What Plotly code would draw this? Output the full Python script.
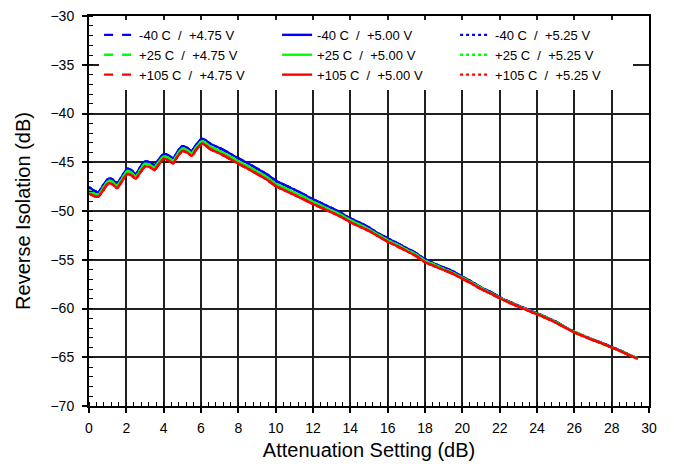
import plotly.graph_objects as go

# Attenuation setting (dB)
atten = [0, 0.25, 0.5, 0.75, 1.0, 1.1, 1.25, 1.5, 1.75, 2.0, 2.1, 2.25, 2.5, 2.75,
         3.0, 3.25, 3.5, 3.75, 4.0, 4.25, 4.5, 4.75, 5.0, 5.25, 5.5, 5.75, 6.0, 6.1,
         6.5, 7, 7.5, 8, 8.5, 9, 9.5, 10, 10.5, 11, 11.5, 12, 12.5, 13, 13.5, 14,
         14.5, 15, 15.5, 16, 16.5, 17, 17.5, 18, 18.5, 19, 19.5, 20, 20.5, 21, 21.5,
         22, 22.5, 23, 23.5, 24, 24.5, 25, 25.5, 26, 26.5, 27, 27.5, 28, 28.5, 29, 29.4]

# Reverse isolation (dB) per temperature (the three supply voltages overlap)
iso_m40 = [-47.55, -47.9, -48.1, -47.4, -46.75, -46.65, -46.75, -47.15, -46.5, -45.75,
           -45.65, -45.8, -46.2, -45.5, -44.9, -45.0, -45.3, -44.7, -44.15, -44.3,
           -44.6, -43.9, -43.35, -43.5, -43.85, -43.2, -42.65, -42.6,
           -43.1, -43.55, -44.05, -44.6, -45.1, -45.65, -46.2, -46.9, -47.35, -47.8,
           -48.3, -48.8, -49.25, -49.7, -50.2, -50.75, -51.2, -51.7, -52.3, -52.8,
           -53.3, -53.8, -54.3, -54.95, -55.4, -55.8, -56.2, -56.75, -57.25, -57.85,
           -58.3, -58.85, -59.3, -59.7, -60.1, -60.5, -60.9, -61.35, -61.9, -62.4,
           -62.8, -63.2, -63.55, -63.95, -64.35, -64.8, -65.1]
iso_p25 = [-47.85, -48.2, -48.35, -47.65, -47.0, -46.9, -47.0, -47.4, -46.75, -46.0,
           -45.9, -46.05, -46.45, -45.8, -45.15, -45.25, -45.55, -44.95, -44.4, -44.55,
           -44.85, -44.15, -43.6, -43.75, -44.1, -43.45, -42.9, -42.85,
           -43.4, -43.85, -44.35, -44.9, -45.4, -45.95, -46.5, -47.2, -47.65, -48.1,
           -48.55, -49.05, -49.5, -49.95, -50.4, -50.95, -51.4, -51.9, -52.45, -53.0,
           -53.45, -53.95, -54.45, -55.1, -55.5, -55.95, -56.35, -56.85, -57.35, -57.9,
           -58.4, -58.9, -59.35, -59.75, -60.15, -60.55, -60.95, -61.4, -61.9, -62.4,
           -62.8, -63.2, -63.6, -64.0, -64.4, -64.8, -65.1]
iso_p105 = [-48.2, -48.45, -48.55, -47.9, -47.25, -47.15, -47.25, -47.65, -47.0, -46.3,
            -46.2, -46.3, -46.7, -46.05, -45.45, -45.5, -45.8, -45.2, -44.65, -44.8,
            -45.1, -44.4, -43.85, -44.0, -44.35, -43.7, -43.15, -43.1,
            -43.65, -44.1, -44.6, -45.15, -45.65, -46.2, -46.75, -47.45, -47.9, -48.35,
            -48.8, -49.3, -49.7, -50.15, -50.6, -51.15, -51.6, -52.05, -52.6, -53.15,
            -53.6, -54.1, -54.6, -55.25, -55.65, -56.05, -56.45, -56.95, -57.45, -58.0,
            -58.45, -58.95, -59.4, -59.8, -60.2, -60.6, -61.0, -61.45, -61.95, -62.45,
            -62.85, -63.25, -63.6, -64.0, -64.4, -64.85, -65.15]

temps = ["-40 C", "+25 C", "+105 C"]
volts = ["+4.75 V", "+5.00 V", "+5.25 V"]
colors = ["#0000FF", "#00FF00", "#FF0000"]
dashes = ["dash", "solid", "dot"]
series = [iso_m40, iso_p25, iso_p105]

FONT = "Liberation Sans, Arial, sans-serif"

fig = go.Figure()
for t, c, ys in zip(temps, colors, series):
    for v, d in zip(volts, dashes):
        fig.add_trace(go.Scatter(
            x=atten, y=ys, mode="lines",
            name=f"{t}  /  {v}",
            line=dict(color=c, width=2.4, dash=d, shape="spline", smoothing=0.6),
        ))

axis_common = dict(
    showline=True, linecolor="black", linewidth=2, mirror=True,
    showgrid=True, gridcolor="#202020", gridwidth=1.5,
    zeroline=False, automargin=False,
    ticks="outside", ticklen=5, tickwidth=1.5, tickcolor="black",
    tickfont=dict(family=FONT, size=14, color="black"),
)

fig.update_xaxes(
    range=[0, 30], dtick=2, tick0=0,
    minor=dict(dtick=0.4, ticks="inside", ticklen=4, tickcolor="black", tickwidth=1, showgrid=False),
    ticklabelstandoff=3,
    title=dict(text="Attenuation Setting (dB)", font=dict(family=FONT, size=20, color="black"), standoff=8),
    **axis_common,
)
fig.update_yaxes(
    range=[-70, -30], dtick=5, tick0=-70,
    minor=dict(dtick=1, ticks="inside", ticklen=4, tickcolor="black", tickwidth=1, showgrid=False),
    ticklabelstandoff=5,
    title=dict(text="Reverse Isolation (dB)", font=dict(family=FONT, size=20, color="black"), standoff=14),
    **axis_common,
)

fig.update_layout(
    width=674, height=468,
    margin=dict(l=89, r=25, t=16, b=62),
    paper_bgcolor="white", plot_bgcolor="white",
    showlegend=True,
    legend=dict(
        orientation="h", x=0.018, y=0.99, xanchor="left", yanchor="top",
        entrywidth=133, entrywidthmode="pixels",
        bgcolor="white", borderwidth=0,
        font=dict(family=FONT, size=13, color="black"),
        itemwidth=30, tracegroupgap=0,
    ),
    font=dict(family=FONT, color="black"),
)

fig.write_html("out.html")
